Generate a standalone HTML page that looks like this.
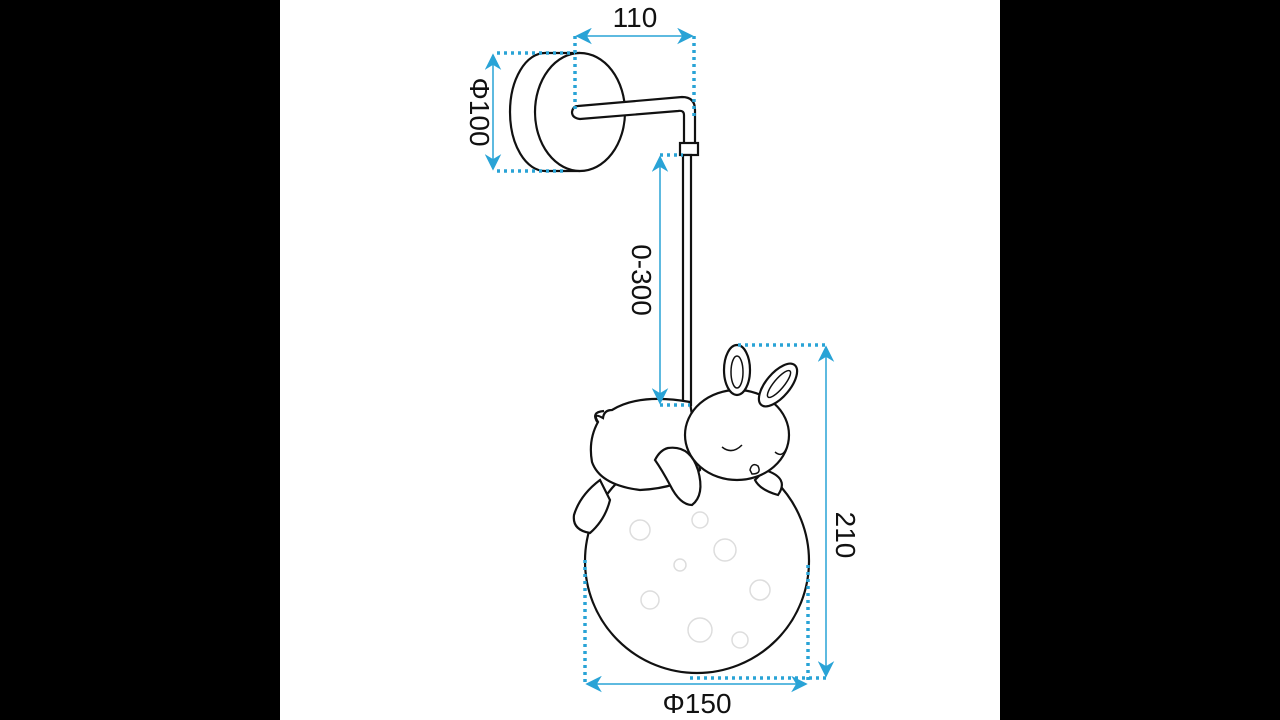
<!DOCTYPE html>
<html><head><style>
html,body{margin:0;padding:0;background:#000;}
svg{display:block}
text{font-family:"Liberation Sans",sans-serif;fill:#111;}
</style></head><body>
<svg width="1280" height="720" viewBox="0 0 1280 720" xmlns="http://www.w3.org/2000/svg">
<rect x="0" y="0" width="1280" height="720" fill="#000"/>
<rect x="280" y="0" width="720" height="720" fill="#fff"/>
<defs>
<marker id="a" viewBox="0 0 10 10" refX="9" refY="5" markerWidth="11" markerHeight="11" orient="auto-start-reverse">
<path d="M0,0 L10,5 L0,10 L3,5 z" fill="#29a3d6"/></marker>
</defs>
<g fill="#fff" stroke="#111" stroke-width="2.2">
<ellipse cx="545" cy="112" rx="35" ry="59"/>
<rect x="545" y="53" width="35" height="118" stroke="none"/>
<line x1="545" y1="53" x2="580" y2="53"/>
<line x1="545" y1="171" x2="580" y2="171"/>
<ellipse cx="580" cy="112" rx="45" ry="59"/>
<path d="M578,106 L682,97 Q695,97 695,110 L695,146 L684,146 L684,115 Q684,110 678,111 L580,119 Q572,118 572,112 Q573,106 578,106 z"/>
<rect x="680" y="143" width="18" height="12"/>
<rect x="683" y="155" width="8" height="250"/>
<circle cx="697" cy="561" r="112"/>
</g>
<g fill="none" stroke="#ddd" stroke-width="1.5">
<circle cx="640" cy="530" r="10"/><circle cx="700" cy="520" r="8"/><circle cx="725" cy="550" r="11"/>
<circle cx="650" cy="600" r="9"/><circle cx="760" cy="590" r="10"/><circle cx="700" cy="630" r="12"/>
<circle cx="680" cy="565" r="6"/><circle cx="740" cy="640" r="8"/>
</g>
<g fill="#fff" stroke="#111" stroke-width="2.2">
<path d="M600,480 Q580,495 574,515 Q572,530 590,533 Q605,520 610,500 z"/>
<path d="M603,418 Q592,412 598,422 Q588,440 592,462 Q600,485 640,490 Q680,488 700,470 L690,402 Q640,393 612,410 Q604,410 603,418 z"/>
<path d="M598,423 Q590,412 604,411" fill="none"/>
<path d="M765,470 Q790,478 778,495 Q760,490 755,480 z"/>
<ellipse cx="737" cy="435" rx="52" ry="45"/>
<ellipse cx="737" cy="370" rx="13" ry="25"/>
<ellipse cx="737" cy="372" rx="6" ry="16" fill="none" stroke-width="1.5"/>
<ellipse cx="778" cy="385" rx="12" ry="26" transform="rotate(40 778 385)"/>
<ellipse cx="779" cy="384" rx="5" ry="17" fill="none" stroke-width="1.5" transform="rotate(40 779 384)"/>
<path d="M668,448 Q690,445 698,470 Q705,495 692,505 Q680,505 670,485 Q662,470 655,460 Q660,450 668,448 z"/>
</g>
<g fill="none" stroke="#111" stroke-width="1.5">
<path d="M722,447 Q732,455 742,445"/>
<path d="M775,452 Q782,458 786,449"/>
<path d="M750,470 Q752,462 758,466 Q762,474 752,474 z"/>
</g>
<g stroke="#29a3d6" stroke-width="1.5" fill="none">
<line x1="577" y1="36" x2="692" y2="36" marker-start="url(#a)" marker-end="url(#a)"/>
<line x1="493" y1="55" x2="493" y2="169" marker-start="url(#a)" marker-end="url(#a)"/>
<line x1="660" y1="157" x2="660" y2="403" marker-start="url(#a)" marker-end="url(#a)"/>
<line x1="826" y1="347" x2="826" y2="676" marker-start="url(#a)" marker-end="url(#a)"/>
<line x1="587" y1="684" x2="806" y2="684" marker-start="url(#a)" marker-end="url(#a)"/>
</g>
<g stroke="#29a3d6" stroke-width="3.5" stroke-dasharray="3 4" fill="none">
<line x1="575" y1="36" x2="575" y2="110"/>
<line x1="694" y1="36" x2="694" y2="118"/>
<line x1="497" y1="53" x2="575" y2="53"/>
<line x1="497" y1="171" x2="565" y2="171"/>
<line x1="660" y1="155" x2="683" y2="155"/>
<line x1="660" y1="405" x2="690" y2="405"/>
<line x1="738" y1="345" x2="826" y2="345"/>
<line x1="690" y1="678" x2="826" y2="678"/>
<line x1="585" y1="560" x2="585" y2="684"/>
<line x1="808" y1="565" x2="808" y2="684"/>
</g>
<text x="635" y="27" font-size="28" text-anchor="middle">110</text>
<text x="0" y="0" font-size="28" text-anchor="middle" transform="translate(470 112) rotate(90)">Φ100</text>
<text x="0" y="0" font-size="28" text-anchor="middle" transform="translate(632 280) rotate(90)">0-300</text>
<text x="0" y="0" font-size="28" text-anchor="middle" transform="translate(836 535) rotate(90)">210</text>
<text x="697" y="713" font-size="28" text-anchor="middle">Φ150</text>
</svg>
</body></html>
